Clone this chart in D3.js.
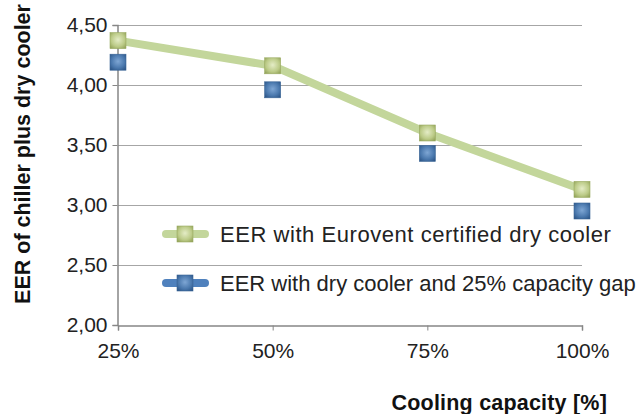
<!DOCTYPE html>
<html><head><meta charset="utf-8">
<script src="https://cdn.jsdelivr.net/npm/d3@7"></script>
<style>body{margin:0;background:#fff}svg{display:block}text{font-family:"Liberation Sans",Arial,sans-serif}</style>
</head><body><svg id="c" width="644" height="414"></svg>
<script>
const categories = ["25%", "50%", "75%", "100%"];
const seriesNames = ["EER with Eurovent certified dry cooler", "EER with dry cooler and 25% capacity gap"];
const eurovent = [4.37, 4.16, 3.60, 3.13];
const capacityGap = [4.19, 3.96, 3.43, 2.95];
const yTicks = [2.0, 2.5, 3.0, 3.5, 4.0, 4.5];

const svg = d3.select("#c");
const W = 644, H = 414;
const m = {left: 118, right: 62, top: 25, bottom: 89};
const x = d3.scalePoint().domain(categories).range([m.left, W - m.right]);
const y = d3.scaleLinear().domain([2.0, 4.5]).range([H - m.bottom, m.top]);

const defs = svg.append("defs");
function grad(id, c1, c2, c3) {
  const g = defs.append("radialGradient").attr("id", id).attr("cx", "50%").attr("cy", "45%").attr("r", "70%");
  g.append("stop").attr("offset", "0%").attr("stop-color", c1);
  g.append("stop").attr("offset", "60%").attr("stop-color", c2);
  g.append("stop").attr("offset", "100%").attr("stop-color", c3);
}
grad("gG", "#e4ecc6", "#bccb88", "#8f9f55");
grad("gB", "#7ea6d4", "#4a78ad", "#2a5283");

// gridlines
svg.append("g").selectAll("line").data(yTicks.filter(d => d > 2.0)).join("line")
  .attr("x1", m.left).attr("x2", W - m.right)
  .attr("y1", d => Math.round(y(d)) + 0.5).attr("y2", d => Math.round(y(d)) + 0.5)
  .attr("stroke", "#a6a6a6").attr("stroke-width", 1);

// axes
const fmt = d => d3.format(".2f")(d).replace(".", ",");
const yAxis = svg.append("g").attr("transform", `translate(${m.left - 0.5},0)`)
  .call(d3.axisLeft(y).tickValues(yTicks).tickFormat(fmt).tickSize(5).tickPadding(5));
const xAxis = svg.append("g").attr("transform", `translate(0,${Math.round(y(2.0)) + 0.5})`)
  .call(d3.axisBottom(x).tickSize(5).tickPadding(13));
[yAxis, xAxis].forEach(a => {
  a.select(".domain").attr("stroke", "#868686").attr("stroke-width", 1.5);
  a.selectAll(".tick line").attr("stroke", "#868686");
  a.selectAll(".tick text").attr("font-size", 21).attr("fill", "#222");
});

// green line
svg.append("path").datum(eurovent)
  .attr("d", d3.line().x((d, i) => x(categories[i])).y(d => y(d)))
  .attr("fill", "none").attr("stroke", "#c3d69b").attr("stroke-width", 8);

const S = 16;
function markers(data, fillId, stroke) {
  svg.append("g").selectAll("rect").data(data).join("rect")
    .attr("x", (d, i) => x(categories[i]) - S / 2).attr("y", d => y(d) - S / 2)
    .attr("width", S).attr("height", S)
    .attr("fill", `url(#${fillId})`).attr("stroke", stroke).attr("stroke-width", 0.6);
}
markers(eurovent, "gG", "#9aab63");
markers(capacityGap, "gB", "#3a6596");

// legend
const leg = [
  {name: seriesNames[0], line: "#c3d69b", fill: "gG", stroke: "#9aab63", y: 234, maxEnd: 612},
  {name: seriesNames[1], line: "#4f81bd", fill: "gB", stroke: "#3a6596", y: 283, maxEnd: 634}
];
leg.forEach(l => {
  svg.append("line").attr("x1", 166).attr("x2", 205).attr("y1", l.y).attr("y2", l.y)
    .attr("stroke", l.line).attr("stroke-width", 8).attr("stroke-linecap", "round");
  svg.append("rect").attr("x", 185 - 8).attr("y", l.y - 8).attr("width", 16).attr("height", 16)
    .attr("fill", `url(#${l.fill})`).attr("stroke", l.stroke).attr("stroke-width", 0.6);
  const t = svg.append("text").attr("x", 220).attr("y", l.y + 8).attr("font-size", 22)
    .attr("fill", "#222").text(l.name);
  const len = t.node().getComputedTextLength();
  const sp = Math.max(0, Math.min(0.55, (l.maxEnd - 220 - len) / l.name.length));
  t.attr("letter-spacing", sp);
});

// titles
svg.append("text").attr("transform", "translate(30,154) rotate(-90)").attr("text-anchor", "middle")
  .attr("font-size", 21.5).attr("font-weight", "bold").attr("fill", "#111").text("EER of chiller plus dry cooler");
svg.append("text").attr("x", 607).attr("y", 410).attr("text-anchor", "end")
  .attr("font-size", 21.5).attr("font-weight", "bold").attr("letter-spacing", 0.2).attr("fill", "#111").text("Cooling capacity [%]");
</script></body></html>
